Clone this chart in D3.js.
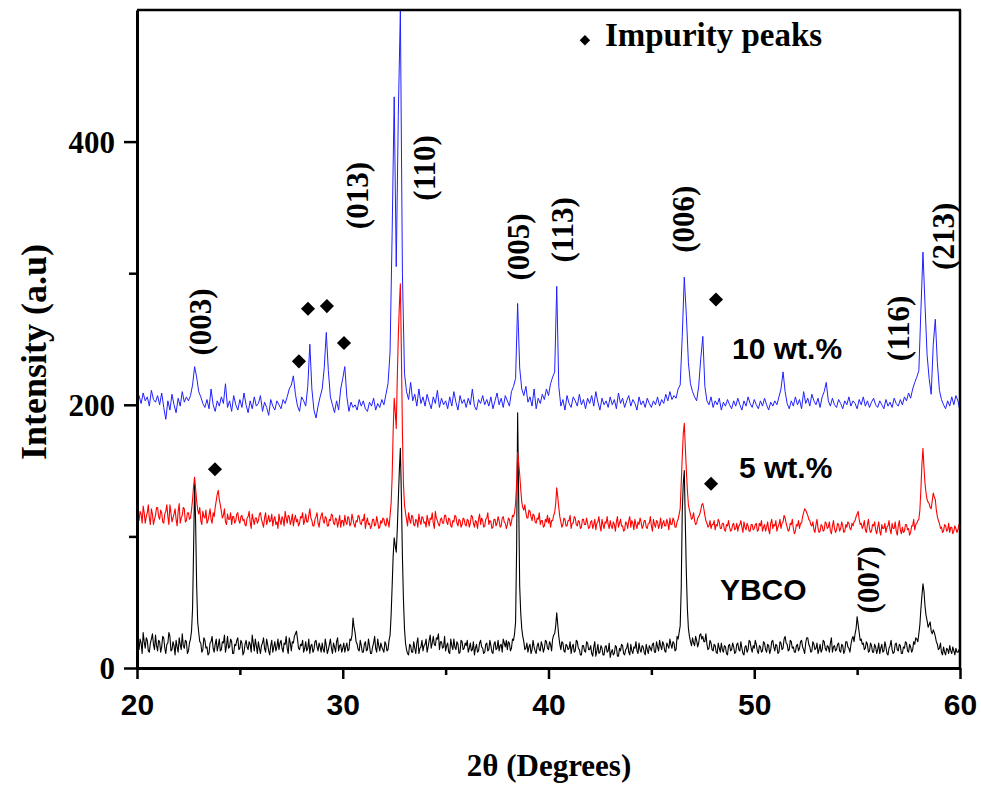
<!DOCTYPE html>
<html><head><meta charset="utf-8">
<script src="https://cdn.jsdelivr.net/npm/d3@7/dist/d3.min.js"></script>
<style>body{margin:0;background:#fff}svg{display:block}</style>
</head><body><svg id="chart" width="981" height="785"></svg>
<script>
// Scan grids: each row below starts at a whole degree (20, 21, … 60)
const rowStartAngles = d3.range(20, 61);
const stepFine = 0.05;   // YBCO and 5 wt.% scans
const stepCoarse = 0.1;  // 10 wt.% scan

// YBCO (black) intensities, one row per degree, 0.05° apart
const ybcoRows = [
 [24,16,14,22,19,11,27,20,15,23,21,13,12,19,22,26,18,14,25,17],
 [13,21,20,12,16,24,23,15,11,18,19,27,24,13,14,20,17,10,21,16],
 [12,23,18,14,26,17,15,21,20,11,13,19,22,28,45,90,140,110,62,35],
 [27,20,19,12,14,23,21,15,16,10,11,19,20,24,15,12,18,22,13,17],
 [22,13,14,20,19,25,12,17,24,15,16,22,20,11,11,18,17,21,23,14],
 [15,21,19,10,12,18,21,16,14,20,18,12,25,19,13,22,17,11,20,15],
 [11,17,19,23,15,12,22,18,13,10,17,21,12,16,20,13,16,22,14,19],
 [21,15,12,19,18,24,15,11,23,19,13,20,19,24,26,28,22,15,14,18],
 [17,21,12,15,20,13,15,22,11,17,18,12,14,20,21,16,13,19,16,12],
 [19,14,12,22,17,11,14,18,22,15,11,19,16,12,20,23,13,17,18,12],
 [15,19,12,16,19,13,14,22,21,25,38,31,27,20,18,14,13,21,17,12],
 [12,18,20,13,14,22,17,11,11,16,19,24,15,12,22,17,13,19,16,14],
 [12,20,18,13,14,21,25,40,62,85,99,93,88,105,128,150,167,130,85,52],
 [30,19,14,11,10,18,17,12,12,20,15,11,19,23,11,15,16,21,13,17],
 [18,22,12,16,21,25,15,19,24,18,17,23,22,26,14,20,20,15,16,24],
 [13,17,19,12,11,22,17,14,22,16,14,20,18,11,12,21,20,14,15,19],
 [17,21,12,15,19,13,14,20,10,15,18,12,13,19,21,16,15,11,12,18],
 [19,13,14,21,17,12,11,18,20,14,15,21,13,17,18,12,22,19,16,21],
 [14,20,19,13,15,22,21,26,35,90,194,130,62,42,30,24,20,14,15,19],
 [12,16,18,11,14,21,16,13,11,17,19,14,13,20,17,12,15,21,20,15],
 [14,20,18,13,22,25,26,32,42,33,24,18,14,20,19,13,12,18,17,14],
 [15,20,11,16,18,12,13,21,20,15,14,10,10,17,17,13,12,20,19,14],
 [14,17,11,9,16,20,9,13,18,11,12,17,15,10,10,16,17,12,13,19],
 [8,12,14,10,11,17,16,9,9,15,13,18,17,11,10,14,15,19,12,10],
 [18,13,11,16,15,20,13,11,19,14,12,17,16,12,10,18,14,11,17,15],
 [13,18,19,12,12,20,16,13,21,17,14,20,18,13,12,19,17,15,22,18],
 [15,20,19,13,14,24,22,27,32,60,118,140,150,110,72,45,30,24,20,17],
 [23,19,17,24,21,16,19,25,26,22,24,20,20,26,18,14,15,21,19,14],
 [13,18,17,12,11,19,15,12,19,14,12,17,16,11,10,17,18,13,14,19],
 [16,11,12,18,19,14,13,20,15,11,10,16,17,12,14,21,20,15,12,17],
 [15,21,18,13,11,17,16,12,13,20,19,14,12,18,17,11,14,20,21,16],
 [13,18,17,11,12,20,19,14,15,22,24,19,18,13,14,21,20,15,16,12],
 [12,17,18,13,15,20,21,16,14,11,19,23,23,18,16,12,13,20,18,14],
 [15,19,11,14,18,12,14,21,20,15,13,17,16,12,19,23,12,16,17,13],
 [14,18,19,13,12,18,17,11,13,20,20,16,15,12,18,22,24,20,26,30],
 [39,33,27,21,22,18,19,14,15,20,18,12,13,19,17,12,12,18,16,11],
 [14,19,11,15,18,12,13,20,16,11,10,15,17,21,14,11,12,18,19,14],
 [13,18,17,11,11,16,15,20,19,13,12,18,16,12,14,20,18,23,22,20],
 [26,33,45,55,64,58,47,40,36,31,33,35,28,26,29,27,24,20,18,14],
 [15,19,12,10,16,12,10,15,14,11,17,13,11,16,13,10,15,12,12,14],
 [11]
];

// 5 wt.% (red) intensities, 0.05° apart
const wt5Rows = [
 [120,114,112,119,117,110,123,118,110,115,118,124,114,109,121,117,109,113,116,122],
 [122,115,113,120,118,111,110,117,119,124,115,109,124,118,111,114,117,121,113,108],
 [119,125,110,114,116,122,121,111,112,118,118,113,114,120,128,138,145,136,127,120],
 [117,122,112,109,119,115,114,120,110,112,116,121,113,110,118,115,122,127,132,135],
 [128,124,119,114,116,121,111,109,117,113,113,118,109,115,115,110,112,117,118,112],
 [110,115,116,112,113,109,108,114,115,119,111,106,117,113,109,114,114,110,112,117],
 [118,113,110,107,114,118,109,112,116,111,112,117,108,113,115,109,111,106,117,112],
 [109,115,113,108,119,114,110,116,115,109,112,117,108,113,116,111,113,108,110,115],
 [114,118,109,112,117,111,111,116,121,114,112,108,108,113,115,118,110,107,113,116],
 [118,112,110,115,114,108,108,113,112,117,116,110,109,114,113,107,111,116,107,112],
 [112,108,116,111,109,115,114,108,110,117,113,109,107,112,111,116,115,110,109,113],
 [112,117,106,111,114,109,110,106,108,113,113,108,109,115,111,106,107,112,110,114],
 [113,109,108,114,111,107,116,125,145,180,205,195,182,220,252,275,292,240,180,140],
 [124,118,113,108,118,113,110,116,115,109,108,113,112,107,117,112,109,115,114,110],
 [111,107,116,112,108,114,113,118,110,106,119,114,112,109,108,113,114,110,110,116],
 [116,111,109,114,113,108,107,112,111,116,115,110,108,113,112,107,109,114,113,109],
 [108,113,112,107,110,116,115,110,107,112,111,106,113,117,109,114,112,107,108,113],
 [114,118,109,112,111,106,107,113,113,108,110,115,112,107,108,114,115,111,110,106],
 [109,114,113,108,111,116,115,118,125,140,164,156,147,136,126,122,120,124,118,114],
 [114,120,119,115,112,117,116,111,110,114,113,118,109,112,112,107,108,113,111,116],
 [110,114,107,112,112,116,118,125,137,130,122,115,111,107,109,114,113,108,108,112],
 [112,116,106,110,110,115,114,109,108,112,111,106,107,113,113,109,109,114,110,106],
 [107,111,112,106,109,113,105,110,111,115,108,104,113,109,106,111,110,115,109,106],
 [112,108,106,111,109,104,111,115,107,110,113,108,108,104,105,111,110,106,112,115],
 [107,112,110,105,113,109,106,111,109,114,111,106,108,112,112,107,106,110,110,115],
 [108,104,113,109,107,112,111,106,109,114,106,110,112,108,108,113,110,105,114,109],
 [109,114,112,107,107,111,113,117,121,140,160,178,186,168,150,135,124,120,117,113],
 [114,118,112,109,110,114,115,117,120,124,125,121,116,112,110,107,108,112,106,109],
 [109,112,105,109,108,113,111,106,106,110,110,105,104,109,108,112,107,104,105,109],
 [110,105,106,110,104,108,109,112,107,103,111,107,105,110,108,104,104,109,109,105],
 [106,109,110,104,105,110,108,112,104,107,109,104,107,111,105,102,110,113,106,109],
 [108,112,104,107,109,113,106,110,111,116,114,110,107,104,105,110,109,113,106,102],
 [104,109,108,112,106,110,110,115,118,121,120,118,116,113,112,109,108,111,105,103],
 [109,113,106,103,104,109,108,104,105,111,110,106,107,111,104,102,108,112,106,103],
 [105,110,109,104,106,111,108,103,104,109,107,111,110,106,105,110,108,111,112,115],
 [117,119,113,109,110,106,108,112,105,103,109,113,106,103,104,109,108,111,105,102],
 [107,111,104,101,109,106,106,110,103,107,108,112,105,102,110,106,106,111,104,101],
 [108,112,105,102,107,103,104,109,109,105,106,101,103,108,108,113,105,109,110,112],
 [113,120,136,155,167,152,140,133,128,126,125,122,121,127,133,130,128,120,115,112],
 [110,106,107,103,104,109,108,104,105,110,103,107,107,102,104,108,106,103,105,109],
 [107]
];

// 10 wt.% (blue) intensities, 0.1° apart
const wt10Rows = [
 [204,207,201,209,203,206,199,211,204,202],
 [207,200,209,198,189,203,196,208,200,194],
 [205,199,210,202,206,203,207,215,229,221],
 [210,206,201,198,204,197,212,200,195,203],
 [199,206,201,216,198,203,195,207,200,196],
 [204,198,209,200,194,203,197,206,199,201],
 [207,195,202,198,192,204,199,196,203,200],
 [197,204,201,206,212,215,222,208,199,195],
 [206,203,199,214,246,212,196,190,199,206],
 [212,228,255,226,206,200,194,203,196,212],
 [220,229,206,195,202,198,200,196,204,199],
 [203,197,195,202,199,205,196,201,198,204],
 [200,208,216,240,330,434,305,420,500,300],
 [224,210,204,217,203,208,199,212,201,206],
 [199,208,202,197,206,201,211,198,205,200],
 [203,197,206,199,210,202,196,207,201,204],
 [198,205,200,212,199,196,204,201,207,200],
 [204,199,206,197,203,209,200,205,198,207],
 [203,199,210,214,220,277,228,212,207,214],
 [202,206,199,212,197,205,201,208,204,212],
 [207,216,221,225,290,214,199,204,196,207],
 [201,198,206,203,199,208,200,204,197,205],
 [201,207,199,210,202,196,205,200,203,198],
 [206,200,204,197,209,201,205,198,203,207],
 [199,204,201,196,206,200,203,198,205,201],
 [198,203,200,206,199,204,201,208,203,210],
 [204,207,205,212,215,252,297,268,232,216],
 [210,206,203,214,235,252,214,203,200,206],
 [198,203,200,205,196,202,199,204,200,197],
 [203,199,205,200,196,203,199,206,201,198],
 [204,200,197,203,199,205,200,196,202,199],
 [203,200,206,212,225,210,201,197,203,199],
 [206,200,204,197,210,201,205,199,208,203],
 [200,205,198,206,210,217,203,199,205,200],
 [198,204,201,197,203,200,206,199,203,201],
 [197,204,200,206,199,203,198,202,205,200],
 [198,203,200,197,204,199,202,198,205,201],
 [199,204,200,206,203,209,205,212,217,221],
 [226,272,316,276,238,220,208,246,265,232],
 [211,204,200,197,203,199,206,200,207,203],
 [195]
];

const xTickValues = [20, 30, 40, 50, 60];
const xMinorTicks = [25, 35, 45, 55];
const yTickValues = [0, 200, 400];
const yMinorTicks = [100, 300];

const seriesLabels = ["YBCO", "5 wt.%", "10 wt.%"];
const seriesLabelAngle = [48.33, 49.26, 48.92];
const seriesLabelIntensity = [51.5, 144, 235];

const hklLabels = ["(003)", "(013)", "(110)", "(005)", "(113)", "(006)", "(116)", "(213)", "(007)"];
const hklAngle = [23.06, 30.69, 33.95, 38.52, 40.66, 46.54, 56.99, 59.17, 55.53];
const hklIntensity = [263, 359, 380, 320, 333, 341, 258, 328, 67];

const impurityAngle = [23.79, 27.87, 28.31, 29.23, 30.06, 48.14, 47.90];
const impurityIntensity = [151, 233, 273, 275, 247, 280, 140];

const legendText = "Impurity peaks";
const legendAngle = 41.77, legendIntensity = 477;

const xTitle = "2θ (Degrees)";
const yTitle = "Intensity (a.u)";

// ---------------- drawing ----------------
const L = 137, R = 960, T = 10, B = 668;
const svg = d3.select("#chart");
const x = d3.scaleLinear().domain([20, 60]).range([L, R]);
const y = d3.scaleLinear().domain([0, 500]).range([B, T]);

svg.append("defs").append("clipPath").attr("id", "clip")
  .append("rect").attr("x", L).attr("y", T).attr("width", R - L).attr("height", B - T);

function toPoints(rows, step) {
  const pts = [];
  rows.forEach((row, r) => row.forEach((v, j) => pts.push([rowStartAngles[r] + j * step, v])));
  return pts;
}
const line = d3.line().x(d => x(d[0])).y(d => y(d[1]));

const series = [
  {pts: toPoints(ybcoRows, stepFine), color: "#000000", w: 1.1},
  {pts: toPoints(wt5Rows, stepFine), color: "#ff0000", w: 1.1},
  {pts: toPoints(wt10Rows, stepCoarse), color: "#2020ff", w: 1}
];
const g = svg.append("g").attr("clip-path", "url(#clip)");
series.forEach(s => {
  g.append("path").datum(s.pts).attr("d", line)
    .attr("fill", "none").attr("stroke", s.color).attr("stroke-width", s.w)
    .attr("stroke-linejoin", "round");
});

// axes
const xAxis = svg.append("g").attr("transform", `translate(0,${B})`)
  .call(d3.axisBottom(x).tickValues(xTickValues).tickSize(11).tickSizeOuter(0).tickPadding(0));
xAxis.select(".domain").attr("stroke-width", 3);
xAxis.selectAll(".tick line").attr("stroke-width", 2.5);
xAxis.selectAll(".tick text").attr("y", 47).attr("dy", 0)
  .style("font-family", "'Liberation Sans', Arial, sans-serif").style("font-weight", "bold").style("font-size", "30px").attr("fill", "#000");
svg.append("g").attr("transform", `translate(0,${B})`)
  .call(d3.axisBottom(x).tickValues(xMinorTicks).tickSize(7).tickFormat(""))
  .call(a => { a.select(".domain").remove(); a.selectAll(".tick line").attr("stroke-width", 2.5); });

const yAxis = svg.append("g").attr("transform", `translate(${L},0)`)
  .call(d3.axisLeft(y).tickValues(yTickValues).tickSize(13).tickSizeOuter(0).tickPadding(9));
yAxis.select(".domain").attr("stroke-width", 3);
yAxis.selectAll(".tick line").attr("stroke-width", 2.5);
yAxis.selectAll(".tick text").attr("dy", "0.34em")
  .style("font-family", "'Liberation Serif', 'Times New Roman', serif").style("font-weight", "bold").style("font-size", "31px").attr("fill", "#000");
svg.append("g").attr("transform", `translate(${L},0)`)
  .call(d3.axisLeft(y).tickValues(yMinorTicks).tickSize(8).tickFormat(""))
  .call(a => { a.select(".domain").remove(); a.selectAll(".tick line").attr("stroke-width", 2.5); });

// frame top/right
svg.append("line").attr("x1", L).attr("x2", R + 1).attr("y1", T).attr("y2", T).attr("stroke", "#000").attr("stroke-width", 2.5);
svg.append("line").attr("x1", R).attr("x2", R).attr("y1", T).attr("y2", B).attr("stroke", "#000").attr("stroke-width", 2.5);

// axis titles
svg.append("text").attr("x", 549).attr("y", 776).attr("text-anchor", "middle")
  .style("font-family", "'Liberation Serif', 'Times New Roman', serif").style("font-weight", "bold").style("font-size", "31px")
  .text(xTitle);
svg.append("text").attr("transform", "translate(46,352) rotate(-90)").attr("text-anchor", "middle")
  .style("font-family", "'Liberation Serif', 'Times New Roman', serif").style("font-weight", "bold").style("font-size", "36px")
  .text(yTitle);

// hkl labels
hklLabels.forEach((t, i) => {
  svg.append("text")
    .attr("transform", `translate(${x(hklAngle[i])},${y(hklIntensity[i])}) rotate(-90)`)
    .attr("text-anchor", "middle").attr("dy", "0.35em")
    .style("font-family", "'Liberation Serif', 'Times New Roman', serif").style("font-weight", "bold").style("font-size", "31px")
    .text(t);
});

// series labels
seriesLabels.forEach((t, i) => {
  svg.append("text").attr("x", x(seriesLabelAngle[i])).attr("y", y(seriesLabelIntensity[i]))
    .style("font-family", "'Liberation Sans', Arial, sans-serif").style("font-weight", "bold").style("font-size", "30px")
    .text(t);
});

// impurity markers
const diamond = d3.symbol().type(d3.symbolSquare).size(100);
impurityAngle.forEach((a, i) => {
  svg.append("path").attr("d", diamond())
    .attr("transform", `translate(${x(a)},${y(impurityIntensity[i])}) rotate(45)`)
    .attr("fill", "#000");
});

// legend
svg.append("path").attr("d", d3.symbol().type(d3.symbolSquare).size(55)())
  .attr("transform", `translate(${x(legendAngle)},${y(legendIntensity)}) rotate(45)`).attr("fill", "#000");
svg.append("text").attr("x", x(legendAngle) + 20).attr("y", 46)
  .style("font-family", "'Liberation Serif', 'Times New Roman', serif").style("font-weight", "bold").style("font-size", "33px")
  .text(legendText);
</script></body></html>
